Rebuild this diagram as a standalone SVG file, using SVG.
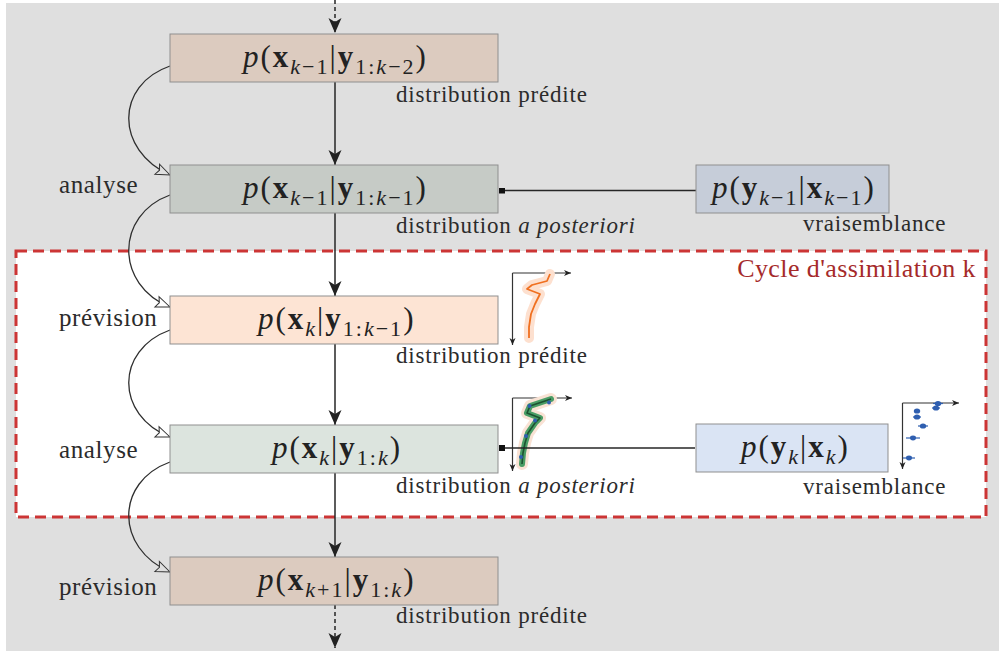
<svg xmlns="http://www.w3.org/2000/svg" width="999" height="651" viewBox="0 0 999 651" font-family="Liberation Serif, serif">
<style>
.t{font-size:23px;letter-spacing:0.8px;fill:#2b2b2b}
.l{font-size:25px;letter-spacing:0.6px;fill:#2b2b2b}
.m{font-size:31px;letter-spacing:2px;fill:#222}
.i{font-style:italic}
.b{font-weight:bold}
.s{font-size:22px}
.box{stroke:#8f8f8f;stroke-width:1}
.ln{stroke:#262626;stroke-width:1.5;fill:none}
.cv{stroke:#2e2e2e;stroke-width:1.3;fill:none}
.ax{stroke:#333;stroke-width:1.2;fill:none}
</style>
<defs>
<marker id="ah" markerUnits="userSpaceOnUse" markerWidth="18" markerHeight="14" viewBox="-16 -7 18 14" refX="0" refY="0" orient="auto">
<path d="M0,0 L-15,-6.5 L-11,0 L-15,6.5 Z" fill="#222"/>
</marker>
<marker id="og" markerUnits="userSpaceOnUse" markerWidth="18" markerHeight="14" viewBox="-16 -7 18 14" refX="0" refY="0" orient="auto">
<path d="M0,0 L-14,-5.5 L-11.5,0 L-14,5.5 Z" fill="#dfdfdf" stroke="#333" stroke-width="1"/>
</marker>
<marker id="ow" markerUnits="userSpaceOnUse" markerWidth="18" markerHeight="14" viewBox="-16 -7 18 14" refX="0" refY="0" orient="auto">
<path d="M0,0 L-14,-5.5 L-11.5,0 L-14,5.5 Z" fill="#fff" stroke="#333" stroke-width="1"/>
</marker>
<marker id="sa" markerUnits="userSpaceOnUse" markerWidth="10" markerHeight="8" viewBox="-8 -4 10 8" refX="0" refY="0" orient="auto">
<path d="M0,0 L-7,-3 L-5,0 L-7,3 Z" fill="#222"/>
</marker>
</defs>

<rect x="6" y="3" width="993" height="648" fill="#dfdfdf"/>
<rect id="cycle-frame" x="16" y="251" width="970" height="266" fill="#fff" stroke="#cc3535" stroke-width="3" stroke-dasharray="11,6"/>
<text class="l" x="976" y="277" text-anchor="end" style="font-family:'Liberation Serif',serif;fill:#a52a2a;font-size:26px;letter-spacing:0.4px">Cycle d'assimilation k</text>

<g id="connectors">
<line class="ln" x1="335" y1="0" x2="335" y2="33" stroke-dasharray="4,3" marker-end="url(#ah)"/>
<line class="ln" x1="335" y1="82" x2="335" y2="165" marker-end="url(#ah)"/>
<line class="ln" x1="335" y1="213" x2="335" y2="296" marker-end="url(#ah)"/>
<line class="ln" x1="335" y1="344" x2="335" y2="425" marker-end="url(#ah)"/>
<line class="ln" x1="335" y1="473" x2="335" y2="557" marker-end="url(#ah)"/>
<line class="ln" x1="335" y1="605" x2="335" y2="648" stroke-dasharray="4,3" marker-end="url(#ah)"/>
<path class="cv" d="M170,66 C115,85 115,150 170,175" marker-end="url(#og)"/>
<path class="cv" d="M170,195 C115,215 115,285 170,307" marker-end="url(#ow)"/>
<path class="cv" d="M170,330 C115,350 115,415 170,437" marker-end="url(#ow)"/>
<path class="cv" d="M170,462 C115,482 115,548 170,572" marker-end="url(#og)"/>
<line class="ln" x1="500" y1="190.5" x2="696" y2="190.5"/>
<rect x="499" y="188" width="6" height="5.5" fill="#111"/>
</g>

<g id="n1">
<rect class="box" x="170" y="34" width="328" height="48" fill="#dccbbf"/>
<text class="m" x="243" y="67" style="font-family:'Liberation Serif',serif"><tspan class="i">p</tspan>(<tspan class="b">x</tspan><tspan class="s" dy="7"><tspan class="i">k</tspan>−1</tspan><tspan dy="-7">|</tspan><tspan class="b">y</tspan><tspan class="s" dy="7">1:<tspan class="i">k</tspan>−2</tspan><tspan dy="-7">)</tspan></text>
<text class="t" x="396" y="102" style="font-family:'Liberation Serif',serif">distribution prédite</text>
</g>

<g id="n2">
<rect class="box" x="170" y="165" width="328" height="48" fill="#c6cbc6"/>
<text class="m" x="243" y="198" style="font-family:'Liberation Serif',serif"><tspan class="i">p</tspan>(<tspan class="b">x</tspan><tspan class="s" dy="7"><tspan class="i">k</tspan>−1</tspan><tspan dy="-7">|</tspan><tspan class="b">y</tspan><tspan class="s" dy="7">1:<tspan class="i">k</tspan>−1</tspan><tspan dy="-7">)</tspan></text>
<text class="t" x="396" y="233" style="font-family:'Liberation Serif',serif">distribution <tspan class="i">a posteriori</tspan></text>
<text class="l" x="59" y="193" style="font-family:'Liberation Serif',serif">analyse</text>
</g>

<g id="obs1">
<rect class="box" x="696" y="165" width="193" height="48" fill="#c6cdd9"/>
<text class="m" x="712" y="198" style="font-family:'Liberation Serif',serif"><tspan class="i">p</tspan>(<tspan class="b">y</tspan><tspan class="s" dy="7"><tspan class="i">k</tspan>−1</tspan><tspan dy="-7">|</tspan><tspan class="b">x</tspan><tspan class="s" dy="7"><tspan class="i">k</tspan>−1</tspan><tspan dy="-7">)</tspan></text>
<text class="t" x="803" y="231" style="font-family:'Liberation Serif',serif">vraisemblance</text>
</g>

<g id="n3">
<rect class="box" x="170" y="296" width="328" height="48" fill="#fde4d4"/>
<text class="m" x="258" y="329" style="font-family:'Liberation Serif',serif"><tspan class="i">p</tspan>(<tspan class="b">x</tspan><tspan class="s i" dy="7">k</tspan><tspan dy="-7">|</tspan><tspan class="b">y</tspan><tspan class="s" dy="7">1:<tspan class="i">k</tspan>−1</tspan><tspan dy="-7">)</tspan></text>
<text class="t" x="396" y="363" style="font-family:'Liberation Serif',serif">distribution prédite</text>
<text class="l" x="59" y="326" style="font-family:'Liberation Serif',serif">prévision</text>
</g>

<g id="plot-forecast">
<line class="ax" x1="512.5" y1="273" x2="571" y2="273" marker-end="url(#sa)"/>
<line class="ax" x1="512.5" y1="273" x2="512.5" y2="345" marker-end="url(#sa)"/>
<polyline points="550,274 547,281 532,285 527,289 540,294 535,304 531,314 529,327 529,338" fill="none" stroke="#fde0cf" stroke-width="10" stroke-linejoin="round" stroke-linecap="round"/>
<polyline points="550,274 547,281 532,285 527,289 540,294 535,304 531,314 529,327 529,338" fill="none" stroke="#f07020" stroke-width="1.8" stroke-linejoin="round"/>
</g>

<g id="n4">
<rect class="box" x="170" y="425" width="328" height="48" fill="#dce4de"/>
<text class="m" x="272" y="458" style="font-family:'Liberation Serif',serif"><tspan class="i">p</tspan>(<tspan class="b">x</tspan><tspan class="s i" dy="7">k</tspan><tspan dy="-7">|</tspan><tspan class="b">y</tspan><tspan class="s" dy="7">1:<tspan class="i">k</tspan></tspan><tspan dy="-7">)</tspan></text>
<text class="t" x="396" y="493" style="font-family:'Liberation Serif',serif">distribution <tspan class="i">a posteriori</tspan></text>
<text class="l" x="59" y="458" style="font-family:'Liberation Serif',serif">analyse</text>
</g>

<g id="plot-analysis">
<line class="ax" x1="512.5" y1="398" x2="572" y2="398" marker-end="url(#sa)"/>
<line class="ax" x1="512.5" y1="398" x2="512.5" y2="471" marker-end="url(#sa)"/>
<polyline points="551,399 530,406 527,413 540,418 535,423 528,433 525,443 523,453 522,464" fill="none" stroke="#f9e2d4" stroke-width="12" stroke-linejoin="round" stroke-linecap="round"/>
<polyline points="551,399 530,406 527,413 540,418 535,423 528,433 525,443 523,453 522,464" fill="none" stroke="#4a9d66" stroke-width="6" stroke-linejoin="round" stroke-linecap="round"/>
<polyline points="551,399 530,406 527,413 540,418 535,423 528,433 525,443 523,453 522,464" fill="none" stroke="#1d5230" stroke-width="1.6" stroke-linejoin="round"/>
<g fill="#2f5fb0">
<circle cx="549" cy="402.5" r="2"/>
<circle cx="529.5" cy="406" r="2"/>
<circle cx="535" cy="420.5" r="2"/>
<circle cx="526" cy="436" r="2"/>
<circle cx="521" cy="457" r="2"/>
</g>
<line class="ln" x1="505" y1="448" x2="695" y2="448"/>
<rect x="499" y="445" width="6" height="6" fill="#111"/>
</g>

<g id="obs2">
<rect class="box" x="696" y="424" width="192" height="48" fill="#dae4f4"/>
<text class="m" x="741" y="457" style="font-family:'Liberation Serif',serif"><tspan class="i">p</tspan>(<tspan class="b">y</tspan><tspan class="s i" dy="7">k</tspan><tspan dy="-7">|</tspan><tspan class="b">x</tspan><tspan class="s i" dy="7">k</tspan><tspan dy="-7">)</tspan></text>
<text class="t" x="803" y="494" style="font-family:'Liberation Serif',serif">vraisemblance</text>
</g>

<g id="plot-obs">
<line class="ax" x1="902.5" y1="403" x2="959" y2="403" marker-end="url(#sa)"/>
<line class="ax" x1="902.5" y1="403" x2="902.5" y2="469" marker-end="url(#sa)"/>
<g stroke="#2f5fb0" stroke-width="1.2">
<line x1="933" y1="403.5" x2="943" y2="403.5"/>
<line x1="932" y1="408" x2="940" y2="408"/>
<line x1="914" y1="411" x2="920" y2="411"/>
<line x1="913" y1="417" x2="921" y2="417"/>
<line x1="918" y1="426" x2="928" y2="426"/>
<line x1="906" y1="438" x2="920" y2="438"/>
<line x1="903" y1="458" x2="915" y2="458"/>
</g>
<g fill="#2f5fb0">
<ellipse cx="938" cy="403.5" rx="3.2" ry="2.6"/>
<ellipse cx="936" cy="408" rx="3.2" ry="2.6"/>
<ellipse cx="917" cy="411" rx="3.2" ry="2.6"/>
<ellipse cx="917" cy="417" rx="3.2" ry="2.6"/>
<ellipse cx="923" cy="426" rx="3.2" ry="2.6"/>
<ellipse cx="913" cy="438" rx="3" ry="2.4"/>
<ellipse cx="909" cy="458" rx="3" ry="2.4"/>
</g>
</g>

<g id="n5">
<rect class="box" x="170" y="557" width="328" height="48" fill="#dccbbf"/>
<text class="m" x="258" y="590" style="font-family:'Liberation Serif',serif"><tspan class="i">p</tspan>(<tspan class="b">x</tspan><tspan class="s" dy="7"><tspan class="i">k</tspan>+1</tspan><tspan dy="-7">|</tspan><tspan class="b">y</tspan><tspan class="s" dy="7">1:<tspan class="i">k</tspan></tspan><tspan dy="-7">)</tspan></text>
<text class="t" x="396" y="623" style="font-family:'Liberation Serif',serif">distribution prédite</text>
<text class="l" x="59" y="595" style="font-family:'Liberation Serif',serif">prévision</text>
</g>
</svg>
